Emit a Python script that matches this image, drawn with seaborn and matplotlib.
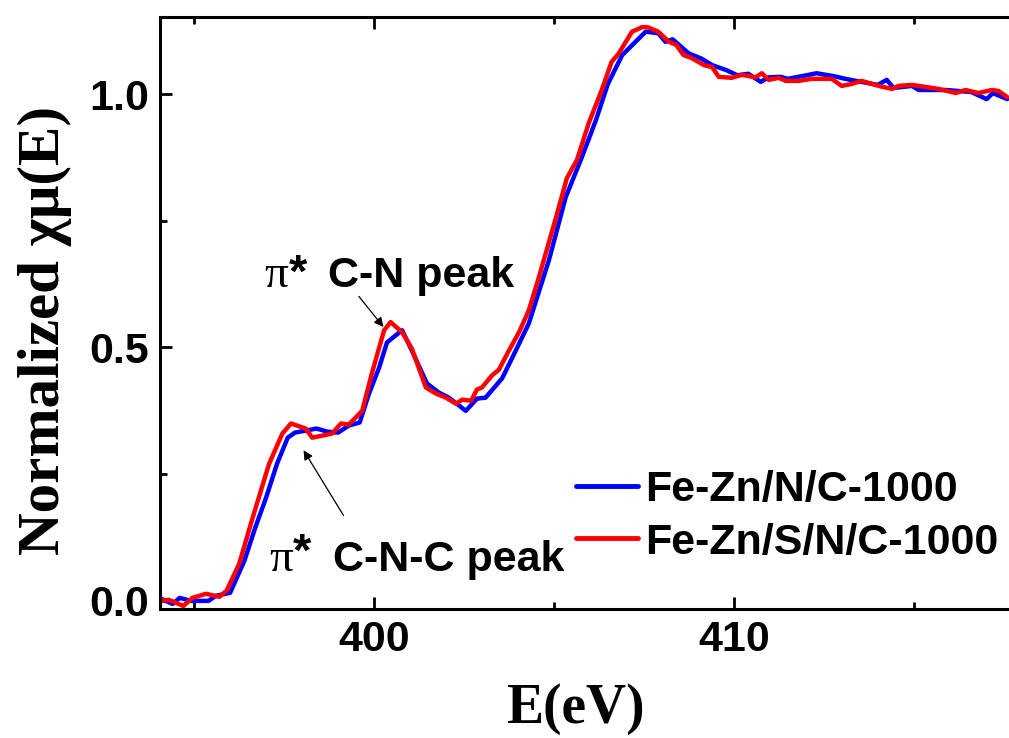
import numpy as np
import pandas as pd
import matplotlib
matplotlib.use("Agg")
import matplotlib.pyplot as plt
import seaborn as sns
from matplotlib.ticker import MultipleLocator

# ---- data ----
energy_a = [394.03, 394.4, 394.6, 394.9, 395.4, 395.6, 396.0, 396.4, 396.7, 397.0, 397.3, 397.6,
            397.8, 398.4, 398.7, 399.0, 399.3, 399.6, 399.86, 400.14, 400.36, 400.78, 401.05,
            401.47, 401.8, 402.08, 402.55, 402.86, 403.1, 403.56, 403.94, 404.3, 404.86, 405.33,
            405.78, 406.17, 406.5, 406.9, 407.55, 407.9, 408.1, 408.3, 408.75, 409.1, 409.4,
            409.8, 410.1, 410.4, 410.75, 410.97, 411.3, 411.5, 411.8, 412.3, 412.8, 413.1,
            413.55, 414.0, 414.25, 414.44, 414.95, 415.14, 415.5, 415.9, 416.6, 417.03, 417.2,
            417.6]
mu_a = [0.006, -0.006, 0.006, 0.0, 0.0, 0.01, 0.016, 0.08, 0.145, 0.204, 0.27, 0.322,
        0.332, 0.34, 0.334, 0.332, 0.346, 0.352, 0.409, 0.46, 0.51, 0.534, 0.494,
        0.429, 0.411, 0.401, 0.375, 0.399, 0.401, 0.439, 0.494, 0.547, 0.672, 0.797,
        0.876, 0.949, 1.02, 1.077, 1.123, 1.12, 1.103, 1.108, 1.08, 1.07, 1.057,
        1.047, 1.037, 1.04, 1.024, 1.033, 1.034, 1.03, 1.034, 1.041, 1.035, 1.03,
        1.024, 1.018, 1.028, 1.012, 1.016, 1.008, 1.008, 1.008, 1.004, 0.99, 1.002,
        0.99]

energy_b = [394.03, 394.3, 394.7, 394.95, 395.33, 395.7, 395.9, 396.25, 396.6, 397.08, 397.45,
            397.69, 398.1, 398.28, 398.83, 399.08, 399.3, 399.67, 399.94, 400.28, 400.46,
            400.78, 401.05, 401.44, 401.72, 402.0, 402.28, 402.45, 402.7, 402.86, 403.0,
            403.28, 403.47, 403.75, 404.03, 404.3, 404.58, 405.06, 405.36, 405.64, 405.97,
            406.33, 406.6, 406.8, 407.17, 407.45, 407.6, 407.9, 408.2, 408.4, 408.6, 408.83,
            409.17, 409.4, 409.58, 409.94, 410.22, 410.6, 410.78, 410.97, 411.25, 411.44,
            411.8, 412.17, 412.72, 413.0, 413.28, 413.55, 414.03, 414.4, 414.58, 414.95,
            415.33, 415.7, 416.17, 416.44, 416.8, 417.17, 417.36, 417.6]
mu_b = [0.0, 0.002, -0.01, 0.006, 0.014, 0.008, 0.02, 0.073, 0.158, 0.27, 0.33,
        0.35, 0.34, 0.322, 0.33, 0.35, 0.348, 0.375, 0.449, 0.534, 0.55,
        0.53, 0.498, 0.421, 0.409, 0.401, 0.389, 0.397, 0.395, 0.417, 0.421,
        0.445, 0.456, 0.494, 0.53, 0.573, 0.638, 0.757, 0.834, 0.87, 0.943,
        1.008, 1.063, 1.08, 1.123, 1.132, 1.132, 1.123, 1.103, 1.097, 1.077, 1.071,
        1.057, 1.053, 1.034, 1.032, 1.038, 1.033, 1.041, 1.028, 1.032, 1.026,
        1.026, 1.03, 1.03, 1.016, 1.02, 1.026, 1.016, 1.01, 1.016, 1.018,
        1.014, 1.01, 1.002, 1.008, 1.002, 1.008, 1.006, 0.994]

series_names = ["Fe-Zn/N/C-1000", "Fe-Zn/S/N/C-1000"]
series_colors = ["#0000FF", "#FF0000"]
x_ticks = [400, 410]
y_ticks = [0.0, 0.5, 1.0]

df = pd.concat([
    pd.DataFrame({"E": energy_a, "mu": mu_a, "sample": series_names[0]}),
    pd.DataFrame({"E": energy_b, "mu": mu_b, "sample": series_names[1]}),
], ignore_index=True)

sns.set_style("ticks")
plt.rcParams["font.family"] = ["Liberation Sans", "DejaVu Sans"]
for key in ["text.color", "axes.labelcolor", "xtick.color", "ytick.color", "axes.edgecolor"]:
    plt.rcParams[key] = "black"

fig = plt.figure(figsize=(10.09, 7.38), dpi=100)
ax = fig.add_axes([160 / 1009, 1 - 609 / 738, 849 / 1009, 592 / 738])

sns.lineplot(data=df, x="E", y="mu", hue="sample", palette=series_colors,
             hue_order=series_names, linewidth=3.2, ax=ax, sort=False,
             estimator=None)

ax.set_xlim(394.05, 417.65)
ax.set_ylim(-0.016, 1.152)
ax.set_xticks(x_ticks)
ax.set_yticks(y_ticks)
ax.set_yticklabels([f"{v:.1f}" for v in y_ticks])
ax.xaxis.set_minor_locator(MultipleLocator(5))
ax.yaxis.set_minor_locator(MultipleLocator(0.25))
ax.tick_params(which="both", direction="in", top=True, right=False, width=2, color="black")
ax.tick_params(which="major", length=8.5, labelsize=31, pad=8)
ax.tick_params(which="minor", length=5)
for lab in ax.get_xticklabels() + ax.get_yticklabels():
    lab.set_fontweight("bold")
for side in ["left", "bottom", "top"]:
    ax.spines[side].set_linewidth(2.2)
    ax.spines[side].set_color("black")
ax.spines["right"].set_visible(False)

ax.set_xlabel("E(eV)", fontfamily="Liberation Serif", fontweight="bold", fontsize=40)
ax.set_ylabel("Normalized χμ(E)", fontfamily="Liberation Serif", fontweight="bold", fontsize=42.5)
ax.xaxis.set_label_coords(0.489, -0.125)
ax.yaxis.set_label_coords(-0.104, 0.47)

# annotations
ax.text(397.28, 0.62, "π", fontfamily="Liberation Serif", fontsize=34, ha="center", va="baseline")
ax.text(397.9, 0.62, "*", fontfamily="Liberation Sans", fontweight="bold", fontsize=34, ha="center", va="baseline")
ax.text(398.72, 0.62, "C-N peak", fontweight="bold", fontsize=31, ha="left", va="baseline")
ax.annotate("", xy=(400.31, 0.536), xytext=(399.53, 0.605),
            arrowprops=dict(arrowstyle="-|>", color="black", lw=0.9, mutation_scale=14))

ax.text(397.42, 0.059, "π", fontfamily="Liberation Serif", fontsize=34, ha="center", va="baseline")
ax.text(398.0, 0.07, "*", fontfamily="Liberation Sans", fontweight="bold", fontsize=34, ha="center", va="baseline")
ax.text(398.86, 0.059, "C-N-C peak", fontweight="bold", fontsize=31, ha="left", va="baseline")
ax.annotate("", xy=(398.0, 0.302), xytext=(399.19, 0.164),
            arrowprops=dict(arrowstyle="-|>", color="black", lw=0.9, mutation_scale=14))

leg = ax.legend(loc="center left", bbox_to_anchor=(0.49, 0.157), frameon=False,
                prop={"weight": "bold", "size": 31, "family": "Liberation Sans"},
                handlelength=1.45, handletextpad=0.15, labelspacing=0.3,
                borderpad=0, borderaxespad=0)
for line in leg.get_lines():
    line.set_linewidth(3.5)

fig.savefig("out.png", dpi=100)
